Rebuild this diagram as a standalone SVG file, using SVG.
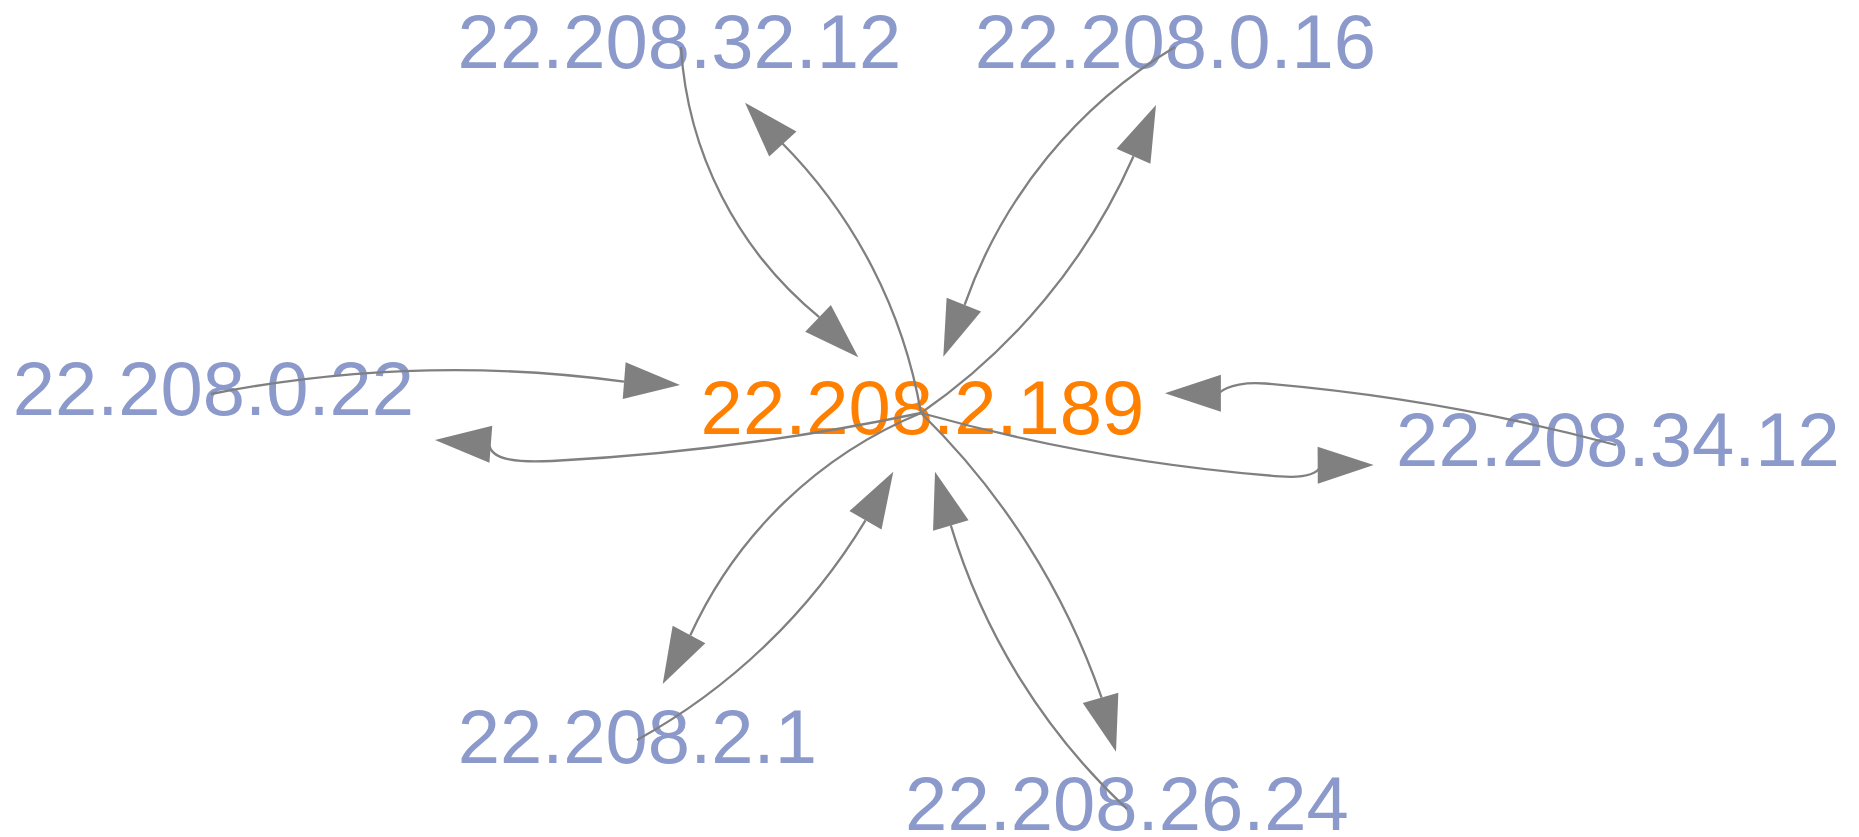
<svg xmlns="http://www.w3.org/2000/svg" xmlns:xlink="http://www.w3.org/1999/xlink" width="1859" height="837" viewBox="0 0 1859 837">
  <style>
    .lbl { font-family: "Liberation Sans", Arial, sans-serif; font-size: 76px; text-anchor: middle; }
    .peer { fill: #8C9ACB; }
    .hub { fill: #FF8000; }
    .edge { fill: none; stroke: #808080; stroke-width: 2.3; }
    .head { fill: #808080; }
  </style>
  <defs>
    <!-- arrowhead with its tip at the origin, pointing along +x -->
    <path id="ah" d="M0,0 L-56,-18.5 L-56,18.5 Z"/>
  </defs>
  <rect width="1859" height="837" fill="#FFFFFF"/>

  <g id="nodes">
    <g id="n-22-208-32-12"><text class="lbl peer" x="679.5" y="68">22.208.32.12</text></g>
    <g id="n-22-208-0-16"><text class="lbl peer" x="1175.4" y="68">22.208.0.16</text></g>
    <g id="n-22-208-0-22"><text class="lbl peer" x="213.4" y="415">22.208.0.22</text></g>
    <g id="n-22-208-2-189"><text class="lbl hub" x="922.5" y="434">22.208.2.189</text></g>
    <g id="n-22-208-34-12"><text class="lbl peer" x="1618" y="466">22.208.34.12</text></g>
    <g id="n-22-208-2-1"><text class="lbl peer" x="637.3" y="763">22.208.2.1</text></g>
    <g id="n-22-208-26-24"><text class="lbl peer" x="1127" y="830">22.208.26.24</text></g>
  </g>

  <g id="connectors">
    <!-- 22.208.32.12 <-> 22.208.2.189 -->
    <path class="edge" d="M681,47 A378,378 0 0 0 819.2,317.1"/>
    <use class="head" xlink:href="#ah" transform="translate(858.3,357.3) rotate(44)"/>
    <path class="edge" d="M921,413 A505,505 0 0 0 781.5,142.5"/>
    <use class="head" xlink:href="#ah" transform="translate(745,102.7) rotate(-132.5)"/>

    <!-- 22.208.0.16 <-> 22.208.2.189 -->
    <path class="edge" d="M1175,47 A490,490 0 0 0 964.6,304.9"/>
    <use class="head" xlink:href="#ah" transform="translate(943.3,356.7) rotate(111.5)"/>
    <path class="edge" d="M921,413 A612,612 0 0 0 1133.5,156.2"/>
    <use class="head" xlink:href="#ah" transform="translate(1156,105) rotate(-66.3)"/>

    <!-- 22.208.0.22 <-> 22.208.2.189 -->
    <path class="edge" d="M211,394 A1260,1260 0 0 1 624,381.6"/>
    <use class="head" xlink:href="#ah" transform="translate(680,385) rotate(4.5)"/>
    <path class="edge" d="M921,413 A2415,2415 0 0 1 552,461 C520,462.5 491,461 489,444"/>
    <use class="head" xlink:href="#ah" transform="translate(435,440) rotate(184.4)"/>

    <!-- 22.208.34.12 <-> 22.208.2.189 -->
    <path class="edge" d="M1616,445 A2008,2008 0 0 0 1265,383.5 C1248,382.1 1228,384.5 1219,393"/>
    <use class="head" xlink:href="#ah" transform="translate(1164.9,393.3) rotate(180)"/>
    <path class="edge" d="M921,413 A1885,1885 0 0 0 1280,476.4 C1298,477.8 1316,476 1321,466"/>
    <use class="head" xlink:href="#ah" transform="translate(1373.7,465) rotate(-0.3)"/>

    <!-- 22.208.2.1 <-> 22.208.2.189 -->
    <path class="edge" d="M921,413 A435,435 0 0 0 690.3,635.3"/>
    <use class="head" xlink:href="#ah" transform="translate(662.7,684) rotate(118)"/>
    <path class="edge" d="M637,740 A614,614 0 0 0 865.5,520.3"/>
    <use class="head" xlink:href="#ah" transform="translate(893.3,471.7) rotate(-60.2)"/>

    <!-- 22.208.26.24 <-> 22.208.2.189 -->
    <path class="edge" d="M921,413 A735,735 0 0 1 1101.6,697.6"/>
    <use class="head" xlink:href="#ah" transform="translate(1116,751.7) rotate(74)"/>
    <path class="edge" d="M1127,809 A641,641 0 0 1 950.8,525.4"/>
    <use class="head" xlink:href="#ah" transform="translate(935,471.7) rotate(-106.4)"/>
  </g>
</svg>
